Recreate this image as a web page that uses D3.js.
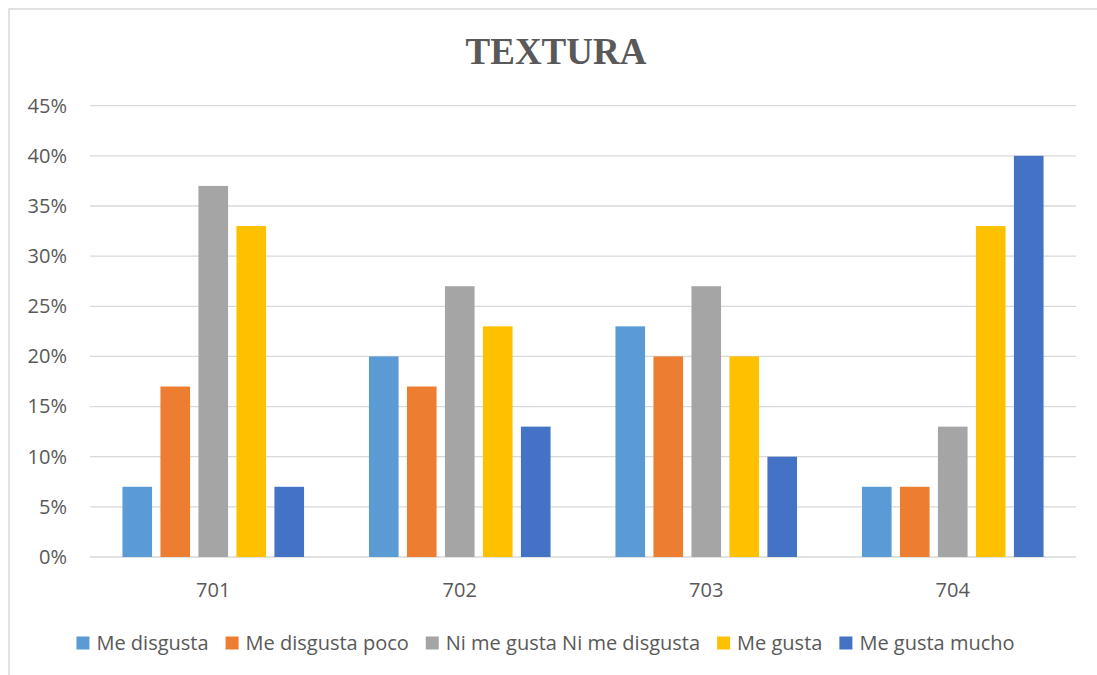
<!DOCTYPE html>
<html>
<head>
<meta charset="utf-8">
<script src="https://cdn.jsdelivr.net/npm/d3@7"></script>
<style>
  html, body { margin: 0; padding: 0; background: #fff; }
  svg { display: block; }
</style>
</head>
<body>
<svg id="chart" width="1097" height="675"></svg>
<script>
const categories = ["701", "702", "703", "704"];
const seriesNames = ["Me disgusta", "Me disgusta poco", "Ni me gusta Ni me disgusta", "Me gusta", "Me gusta mucho"];
const seriesColors = ["#5B9BD5", "#ED7D31", "#A5A5A5", "#FFC000", "#4472C4"];
const meDisgusta      = [7, 20, 23, 7];
const meDisgustaPoco  = [17, 17, 20, 7];
const niMeGusta       = [37, 27, 27, 13];
const meGusta         = [33, 23, 20, 33];
const meGustaMucho    = [7, 13, 10, 40];
const yTicks = [0, 5, 10, 15, 20, 25, 30, 35, 40, 45];
const title = "TEXTURA";

const seriesValues = [meDisgusta, meDisgustaPoco, niMeGusta, meGusta, meGustaMucho];

const svg = d3.select("#chart");
const plot = { left: 90, right: 1076, top: 105.7, bottom: 557 };
const textColor = "#595959";
const font = "'Open Sans', 'DejaVu Sans', sans-serif";

// Chart border (extends beyond the right/bottom edges like the reference)
svg.append("rect")
  .attr("x", 9).attr("y", 9)
  .attr("width", 1100).attr("height", 690)
  .attr("fill", "#fff")
  .attr("stroke", "#d9d9d9").attr("stroke-width", 1.5);

// Title
svg.append("text")
  .attr("x", 556).attr("y", 64)
  .attr("text-anchor", "middle")
  .attr("font-family", "'Liberation Serif', 'Times New Roman', serif")
  .attr("font-weight", "bold")
  .attr("font-size", 37)
  .attr("fill", textColor)
  .text(title);

const y = d3.scaleLinear().domain([0, 45]).range([plot.bottom, plot.top]);
const x0 = d3.scaleBand().domain(categories).range([plot.left, plot.right]).paddingInner(0).paddingOuter(0);
const groupHalf = 90.8;
const x1 = d3.scaleBand().domain(d3.range(seriesNames.length)).range([-groupHalf, groupHalf]).paddingInner(0.22).paddingOuter(0);

// Gridlines
svg.append("g").selectAll("line").data(yTicks).join("line")
  .attr("x1", plot.left).attr("x2", plot.right)
  .attr("y1", d => y(d)).attr("y2", d => y(d))
  .attr("stroke", "#d9d9d9").attr("stroke-width", 1.3);

// Y axis labels
const yAxis = d3.axisLeft(y).tickValues(yTicks).tickFormat(d => d + "%").tickSize(0).tickPadding(0);
const gy = svg.append("g").attr("transform", `translate(67,0)`).call(yAxis);
gy.select(".domain").remove();
gy.selectAll("text")
  .attr("font-family", font).attr("font-size", 20).attr("fill", textColor);

// Bars
const groups = svg.append("g").selectAll("g").data(categories).join("g")
  .attr("transform", d => `translate(${x0(d) + x0.bandwidth() / 2},0)`);
groups.selectAll("rect")
  .data((c, ci) => seriesValues.map((vals, si) => ({ si, v: vals[ci] })))
  .join("rect")
  .attr("x", d => x1(d.si))
  .attr("width", x1.bandwidth())
  .attr("y", d => y(d.v))
  .attr("height", d => y(0) - y(d.v))
  .attr("fill", d => seriesColors[d.si]);

// X axis labels
const xAxis = d3.axisBottom(x0).tickSize(0).tickPadding(0);
const gx = svg.append("g").attr("transform", `translate(0,${plot.bottom})`).call(xAxis);
gx.select(".domain").remove();
gx.selectAll("text")
  .attr("y", 40).attr("dy", 0)
  .attr("font-family", font).attr("font-size", 20).attr("fill", textColor);

// Legend
const legend = svg.append("g");
const items = legend.selectAll("g").data(seriesNames).join("g");
items.append("rect")
  .attr("width", 13).attr("height", 13)
  .attr("y", 636.5)
  .attr("fill", (d, i) => seriesColors[i]);
items.append("text")
  .attr("x", 20).attr("y", 650)
  .attr("font-family", font).attr("font-size", 20).attr("fill", textColor)
  .text(d => d);
const gap = 17;
let widths = [];
items.each(function() { widths.push(20 + d3.select(this).select("text").node().getComputedTextLength()); });
const total = d3.sum(widths) + gap * (widths.length - 1);
let cx = 545.5 - total / 2;
items.each(function(d, i) {
  d3.select(this).attr("transform", `translate(${cx},0)`);
  cx += widths[i] + gap;
});
</script>
</body>
</html>
